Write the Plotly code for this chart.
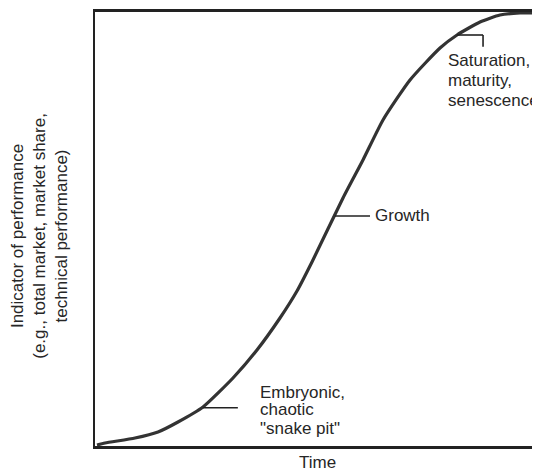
import plotly.graph_objects as go

# Data (time and performance in 0-100 units)
time = [0.45, 2.25, 8.99, 14.16, 18.65, 24.27, 31.01, 36.40, 41.57, 45.39, 48.76,
        55.73, 60.22, 64.72, 70.79, 77.53, 81.35, 86.52, 91.01, 95.51, 100.0]
performance = [0.23, 0.69, 1.84, 3.23, 5.53, 8.99, 15.67, 22.12, 29.49, 35.71, 42.40,
               57.14, 65.90, 75.12, 84.33, 91.71, 94.70, 97.70, 99.31, 99.77, 99.77]

stage_labels = ["Embryonic,<br>chaotic<br>\"snake pit\"", "Growth",
                "Saturation,<br>maturity,<br>senescence"]
x_title = "Time"
y_title = "Indicator of performance<br>(e.g., total market, market share,<br>technical performance)"

FONT = "Liberation Sans, Arial, Helvetica, sans-serif"
TXT = "#262626"

fig = go.Figure()
fig.add_trace(go.Scatter(x=time, y=performance, mode="lines",
                         line=dict(color="#333333", width=3.2, shape="spline", smoothing=0.55),
                         hoverinfo="skip", showlegend=False))

# leader lines
lc = dict(color="#222222", width=1.6)
fig.add_shape(type="line", x0=24.3, y0=8.8, x1=32.1, y1=8.8, line=lc)
fig.add_shape(type="line", x0=53.9, y0=53.0, x1=61.8, y1=53.0, line=lc)
fig.add_shape(type="line", x0=81.3, y0=94.7, x1=87.2, y1=94.7, line=lc)
fig.add_shape(type="line", x0=87.2, y0=94.7, x1=87.2, y1=92.0, line=lc)

def label(x, y, text):
    fig.add_annotation(x=x, y=y, xref="x", yref="y", text=text, showarrow=False,
                       xanchor="left", yanchor="middle",
                       font=dict(family=FONT, size=17, color=TXT))

emb = stage_labels[0].split("<br>")
for t, yy in zip(emb, [12.4, 8.3, 4.1]):
    label(36.6, yy, t)
label(62.5, 53.0, stage_labels[1])
sat = stage_labels[2].split("<br>")
for t, yy in zip(sat, [88.9, 84.3, 79.7]):
    label(78.9, yy, t)

fig.add_annotation(x=0.501, y=-0.037, xref="paper", yref="paper", text=x_title,
                   showarrow=False, xanchor="center", yanchor="middle",
                   font=dict(family=FONT, size=17, color=TXT))
fig.add_annotation(x=-0.124, y=0.484, xref="paper", yref="paper", text=y_title,
                   showarrow=False, xanchor="center", yanchor="middle", textangle=-90,
                   font=dict(family=FONT, size=17, color=TXT))

# the page body has an 8px margin, so the figure is sized/offset to compensate
fig.update_layout(
    width=532, height=467,
    margin=dict(l=87, r=0, t=4, b=29),
    paper_bgcolor="white", plot_bgcolor="white",
    xaxis=dict(range=[0, 100], showgrid=False, zeroline=False, showticklabels=False,
               ticks="", showline=True, linecolor="#222222", linewidth=2.5, mirror=True),
    yaxis=dict(range=[0, 100], showgrid=False, zeroline=False, showticklabels=False,
               ticks="", showline=True, linecolor="#222222", linewidth=2.2),
)

fig.write_html("out.html")
